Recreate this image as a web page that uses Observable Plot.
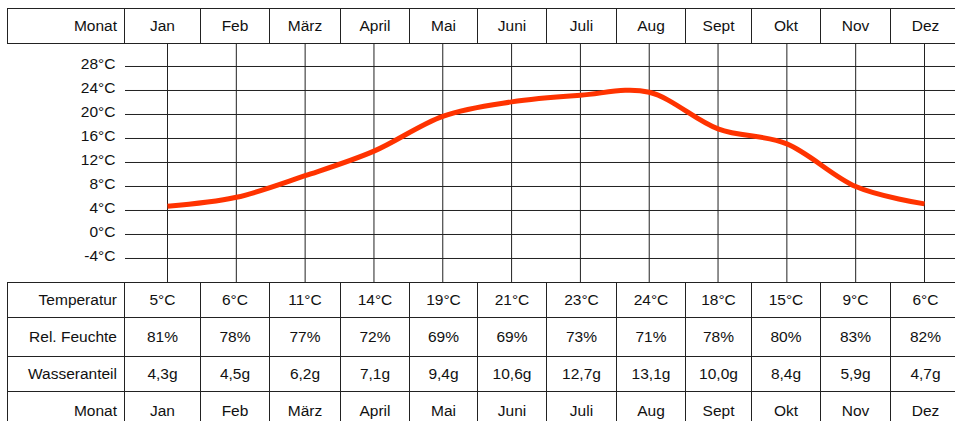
<!DOCTYPE html>
<html>
<head>
<meta charset="utf-8">
<script src="https://cdn.jsdelivr.net/npm/d3@7"></script>
<script src="https://cdn.jsdelivr.net/npm/@observablehq/plot@0.6"></script>
<style>
  html, body { margin: 0; padding: 0; background: #fff; overflow: hidden; width: 955px; height: 421px; }
  body { position: relative; font-family: "Liberation Sans", Arial, sans-serif; font-size: 15.5px; color: #111; }
  .tbl { position: absolute; border-left: 1px solid #222; border-top: 1px solid #222; }
  .cell { position: absolute; box-sizing: border-box; border-right: 1px solid #222; border-bottom: 1px solid #222;
          display: flex; align-items: center; justify-content: center; white-space: nowrap; }
  .cell.label { justify-content: flex-end; padding-right: 7px; }
  #chart { position: absolute; left: 0; top: 43px; }
</style>
</head>
<body>
<div id="top" class="tbl"></div>
<div id="chart"></div>
<div id="bottom" class="tbl"></div>
<script>
// ---- data ----
const months = ["Jan", "Feb", "März", "April", "Mai", "Juni", "Juli", "Aug", "Sept", "Okt", "Nov", "Dez"];
const curveTemp = [4.7, 6.2, 9.8, 13.9, 19.7, 22.1, 23.2, 23.7, 17.6, 15.1, 8.0, 5.1];
const tableTemp = [5, 6, 11, 14, 19, 21, 23, 24, 18, 15, 9, 6];
const humidity = [81, 78, 77, 72, 69, 69, 73, 71, 78, 80, 83, 82];
const water = [4.3, 4.5, 6.2, 7.1, 9.4, 10.6, 12.7, 13.1, 10.0, 8.4, 5.9, 4.7];
const yTicks = [-4, 0, 4, 8, 12, 16, 20, 24, 28];
const rowLabels = ["Temperatur", "Rel. Feuchte", "Wasseranteil", "Monat"];

// ---- layout ----
const colW = [117, 76, 69, 71, 69, 68, 69, 70, 69, 66, 69, 70, 70];
const colX = colW.reduce((a, w, i) => (a.push(i ? a[i - 1] + colW[i - 1] : 0), a), []);
const fmtComma = d => d.toFixed(1).replace(".", ",");

function buildTable(sel, left, top, rows, heights) {
  const root = d3.select(sel).style("left", left + "px").style("top", top + "px")
    .style("width", "960px").style("height", d3.sum(heights) + "px");
  let y = 0;
  rows.forEach((row, r) => {
    row.forEach((txt, c) => {
      root.append("div").attr("class", "cell" + (c === 0 ? " label" : ""))
        .style("left", colX[c] + "px").style("top", y + "px")
        .style("width", colW[c] + "px").style("height", heights[r] + "px")
        .text(txt);
    });
    y += heights[r];
  });
}

buildTable("#top", 7, 8, [["Monat", ...months]], [35]);
buildTable("#bottom", 7, 282, [
  [rowLabels[0], ...tableTemp.map(d => d + "°C")],
  [rowLabels[1], ...humidity.map(d => d + "%")],
  [rowLabels[2], ...water.map(d => fmtComma(d) + "g")],
  [rowLabels[3], ...months]
], [35, 38.5, 35, 40]);

// ---- chart ----
const data = months.map((m, i) => ({month: m, temp: curveTemp[i]}));
const chart = Plot.plot({
  width: 955,
  height: 239,
  marginLeft: 125,
  marginRight: 0,
  marginTop: 0,
  marginBottom: 0,
  style: {fontFamily: "Liberation Sans, Arial, sans-serif", fontSize: "15.5px", color: "#111", background: "transparent", overflow: "visible"},
  x: {type: "point", domain: months, range: [167, 924], padding: 0, round: false, axis: null},
  y: {domain: [-8, 31.833], axis: null},
  marks: [
    Plot.ruleY(yTicks, {stroke: "#222", strokeWidth: 1, strokeOpacity: 1}),
    Plot.ruleX(months, {stroke: "#222", strokeWidth: 1, strokeOpacity: 1}),
    Plot.axisY({ticks: yTicks, tickSize: 0, tickPadding: 10, tickFormat: d => d + "°C", label: null, dy: -2, fill: "#111"}),
    Plot.line(data, {x: "month", y: "temp", curve: "cardinal", stroke: "#ff3300", strokeWidth: 5, strokeLinecap: "butt"})
  ]
});
document.getElementById("chart").appendChild(chart);
</script>
</body>
</html>
